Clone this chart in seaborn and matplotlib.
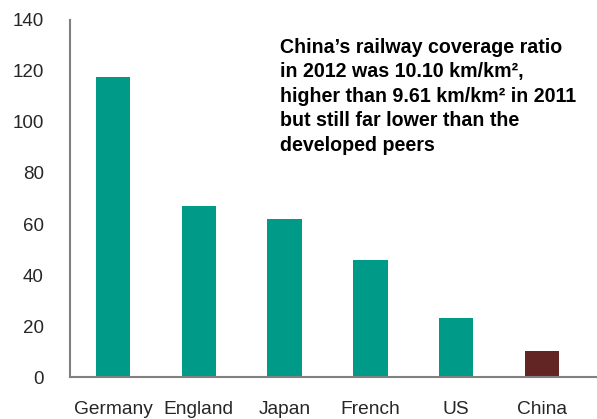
import matplotlib
matplotlib.use("Agg")
import matplotlib.pyplot as plt
import seaborn as sns
import pandas as pd

# Railway coverage ratio (km per 1,000 km² of land)
countries = ["Germany", "England", "Japan", "French", "US", "China"]
coverage = [117.6, 67.0, 62.1, 46.0, 23.3, 10.1]
bar_colors = ["#009A89", "#009A89", "#009A89", "#009A89", "#009A89", "#632523"]
y_ticks = [0, 20, 40, 60, 80, 100, 120, 140]
note = ("China\u2019s railway coverage ratio\n"
        "in 2012 was 10.10 km/km\u00b2,\n"
        "higher than 9.61 km/km\u00b2 in 2011\n"
        "but still far lower than the\n"
        "developed peers")

df = pd.DataFrame({"country": countries, "coverage": coverage})

sns.set_style("white")
plt.rcParams["font.family"] = ["Liberation Sans", "DejaVu Sans"]

fig = plt.figure(figsize=(5.97, 4.19), dpi=100)
ax = fig.add_axes([0.1173, 0.1002, 0.8827, 0.8521])

sns.barplot(data=df, x="country", y="coverage", hue="country",
            palette=bar_colors, width=0.4, legend=False, ax=ax,
            saturation=1, edgecolor="none")

ax.set_ylim(0, 140)
ax.set_yticks(y_ticks)
ax.set_xlim(-0.5, 5.64)
ax.set_xlabel("")
ax.set_ylabel("")

# Category ticks sit between the bars
ax.set_xticks([i - 0.5 for i in range(len(countries))], minor=False)
ax.set_xticklabels([])
ax.set_xticks(range(len(countries)), minor=True)
ax.set_xticklabels(countries, minor=True, fontsize=13.8)
ax.tick_params(axis="x", which="major", direction="out", length=3.6,
               width=1.5, color="#808080")
ax.tick_params(axis="x", which="minor", length=0, pad=17.5)
ax.tick_params(axis="y", direction="out", length=5, width=1.5,
               color="#808080", labelsize=13.5, pad=14)

for side in ("top", "right"):
    ax.spines[side].set_visible(False)
for side in ("left", "bottom"):
    ax.spines[side].set_color("#808080")
    ax.spines[side].set_linewidth(1.5)

ax.text(0.469, 0.9105, note, transform=fig.transFigure, fontsize=14.1,
        fontweight="bold", va="top", ha="left", linespacing=1.37,
        color="#000000")

fig.savefig("out.png", dpi=100)
